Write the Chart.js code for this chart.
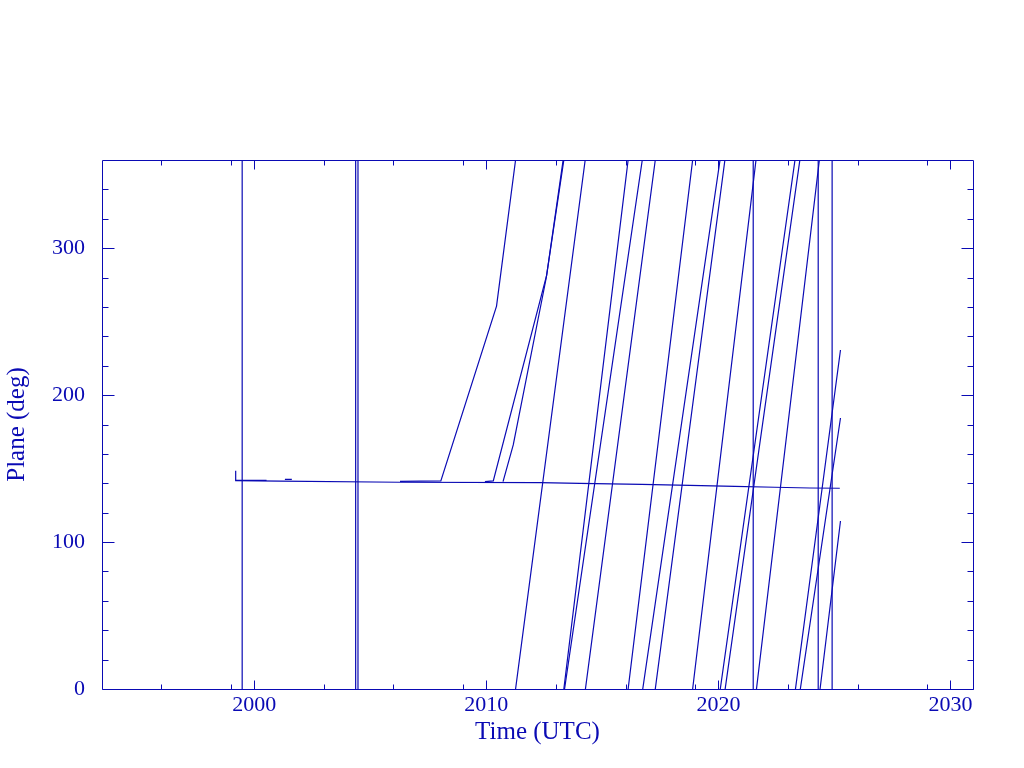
<!DOCTYPE html>
<html>
<head>
<meta charset="utf-8">
<title>Plane vs time</title>
<script src="https://cdn.jsdelivr.net/npm/chart.js@4/dist/chart.umd.min.js"></script>
<style>
  html, body { margin: 0; padding: 0; background: #ffffff; }
  #wrap { width: 1024px; height: 768px; }
</style>
</head>
<body>
<div id="wrap"><canvas id="planeChart" width="1024" height="768"></canvas></div>
<script>
// colour used for everything (pgplot style blue)
const BLUE = "#0a0ab4";
const FONT = "'Liberation Serif', 'Times New Roman', serif";

// axis ticks
const xMajorTicks = [2000, 2010, 2020, 2030];
const xMinorTicks = [1996, 1999, 2003, 2006, 2009, 2013, 2016, 2019, 2023, 2026, 2029];
const yMajorTicks = [0, 100, 200, 300];
const yMinorTicks = [20, 40, 60, 80, 120, 140, 160, 180, 220, 240, 260, 280, 320, 340];

// main (slowly drifting) plane
const mainYears = [1999.20, 1999.20, 2001.11, 2006.28, 2012.31, 2014.03, 2016.70, 2018.77, 2020.71, 2022.43, 2023.94, 2025.23];
const mainPlane = [148.6, 141.8, 141.4, 140.7, 140.5, 140.0, 139.3, 138.6, 137.9, 137.3, 136.8, 136.6];

// short early pieces lying on the main plane (null = gap)
const earlyYears = [1999.20, 2000.53, null, 2001.32, 2001.62];
const earlyPlane = [142.0, 142.0, null, 142.7, 142.7];

// three objects that leave the plane and precess, wrapping at 360
const satAYears = [2006.28, 2008.04, 2010.44, 2011.26, null, 2011.26, 2014.26, null, 2014.27, 2017.28, null, 2017.28, 2020.28, null, 2020.29, 2023.51, null, 2023.53, 2025.26];
const satAPlane = [141.3, 141.6, 260.6, 360, null, 0, 360, null, 0, 360, null, 0, 360, null, 0, 360, null, 0, 184.4];

const satBYears = [2009.94, 2010.30, 2012.60, 2013.31, null, 2013.34, 2016.11, null, 2016.11, 2018.89, null, 2018.89, 2021.62, null, 2021.64, 2024.35, null, 2024.38, 2025.26];
const satBPlane = [141.1, 141.6, 281.7, 360, null, 0, 360, null, 0, 360, null, 0, 360, null, 0, 360, null, 0, 114.3];

const satCYears = [2010.72, 2011.16, 2012.58, 2013.34, null, 2013.37, 2016.72, null, 2016.74, 2020.07, null, 2020.08, 2023.30, null, 2023.32, 2025.26];
const satCPlane = [141.1, 166.1, 279.7, 360, null, 0, 360, null, 0, 360, null, 0, 360, null, 0, 230.7];

// full-height jumps (0 -> 360)
const jumpYears = [1999.48, 2004.37, 2004.47, 2021.50, 2024.30, 2024.90];

const toPoints = (xs, ys) => xs.map((x, i) => ({ x: x, y: ys[i] }));
const jumpPoints = jumpYears.flatMap((yr) => [{ x: yr, y: 0 }, { x: yr, y: 360 }, { x: yr, y: null }]);

const lineSet = (points) => ({
  data: points,
  borderColor: BLUE,
  borderWidth: 1.2,
  pointRadius: 0,
  fill: false,
  tension: 0,
  spanGaps: false,
});

// frame + inward ticks on all four sides, like the original plot package
const frameTicks = {
  id: "frameTicks",
  afterDatasetsDraw(chart) {
    const { ctx, chartArea, scales } = chart;
    const { left, right, top, bottom } = chartArea;
    const px = (v) => Math.round(scales.x.getPixelForValue(v)) + 0.5;
    const py = (v) => Math.round(scales.y.getPixelForValue(v)) + 0.5;
    const l = Math.round(left) + 0.5, r = Math.round(right) + 0.5;
    const t = Math.round(top) + 0.5, b = Math.round(bottom) + 0.5;
    ctx.save();
    ctx.strokeStyle = BLUE;
    ctx.lineWidth = 1;
    ctx.beginPath();
    ctx.rect(l, t, r - l, b - t);
    const xTick = (v, len) => {
      const x = px(v);
      ctx.moveTo(x, b); ctx.lineTo(x, b - len);
      ctx.moveTo(x, t); ctx.lineTo(x, t + len);
    };
    const yTick = (v, len) => {
      const y = py(v);
      ctx.moveTo(l, y); ctx.lineTo(l + len, y);
      ctx.moveTo(r, y); ctx.lineTo(r - len, y);
    };
    xMajorTicks.forEach((v) => xTick(v, 9));
    xMinorTicks.forEach((v) => xTick(v, 5));
    yMajorTicks.forEach((v) => yTick(v, 12));
    yMinorTicks.forEach((v) => yTick(v, 6));
    ctx.stroke();
    ctx.restore();
  },
};

const ctx = document.getElementById("planeChart").getContext("2d");
const planeChart = new Chart(ctx, {
  type: "line",
  data: {
    datasets: [
      lineSet(toPoints(mainYears, mainPlane)),
      lineSet(toPoints(earlyYears, earlyPlane)),
      lineSet(toPoints(satAYears, satAPlane)),
      lineSet(toPoints(satBYears, satBPlane)),
      lineSet(toPoints(satCYears, satCPlane)),
      lineSet(jumpPoints),
    ],
  },
  options: {
    responsive: false,
    animation: false,
    devicePixelRatio: 1,
    layout: { padding: { top: 160, right: 51, left: 0, bottom: 0 } },
    plugins: { legend: { display: false }, tooltip: { enabled: false } },
    scales: {
      x: {
        type: "linear",
        min: 1993.44,
        max: 2030.97,
        border: { display: false },
        grid: { display: false, drawTicks: false },
        ticks: {
          color: BLUE,
          font: { family: FONT, size: 22 },
          padding: 3,
          maxRotation: 0,
          autoSkip: false,
          callback: (v) => String(v),
        },
        afterBuildTicks: (scale) => { scale.ticks = xMajorTicks.map((v) => ({ value: v })); },
        afterFit: (scale) => { scale.height = 79; },
        title: {
          display: true,
          text: "Time (UTC)",
          color: BLUE,
          font: { family: FONT, size: 25 },
          padding: { top: 0, bottom: 21 },
        },
      },
      y: {
        type: "linear",
        min: 0,
        max: 360,
        border: { display: false },
        grid: { display: false, drawTicks: false },
        ticks: {
          color: BLUE,
          font: { family: FONT, size: 22 },
          padding: 17,
          autoSkip: false,
          callback: (v) => String(v),
        },
        afterBuildTicks: (scale) => { scale.ticks = yMajorTicks.map((v) => ({ value: v })); },
        afterFit: (scale) => { scale.width = 102; },
        title: {
          display: true,
          text: "Plane (deg)",
          color: BLUE,
          font: { family: FONT, size: 25 },
          padding: { top: 2, bottom: 0 },
        },
      },
    },
  },
  plugins: [frameTicks],
});
</script>
</body>
</html>
